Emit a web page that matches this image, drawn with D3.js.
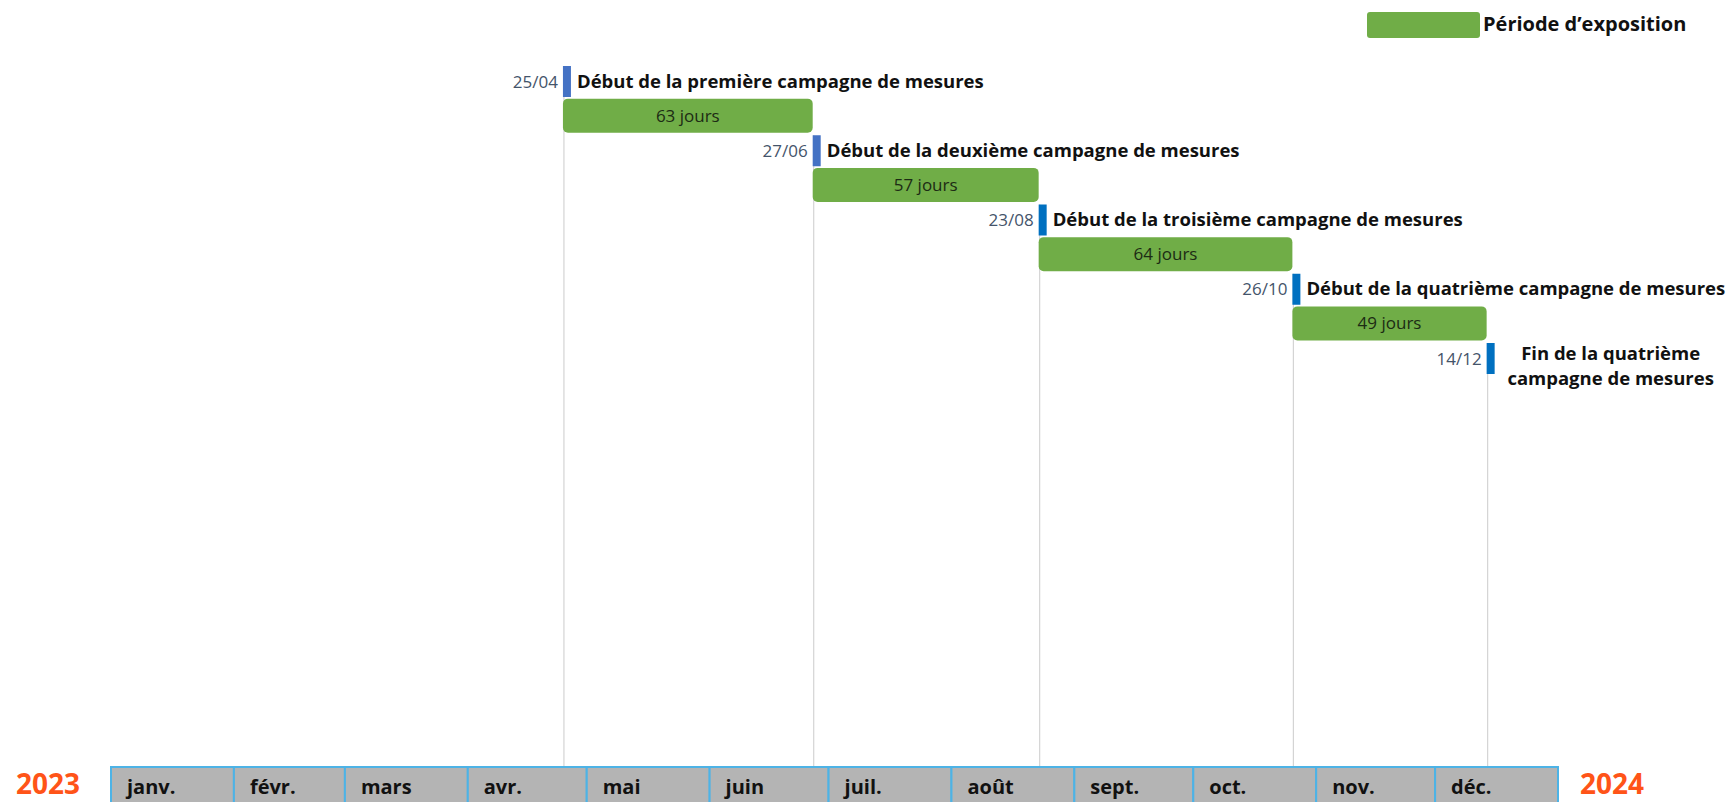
<!DOCTYPE html>
<html>
<head>
<meta charset="utf-8">
<script src="https://cdn.jsdelivr.net/npm/d3@7"></script>
<style>
  html, body { margin: 0; padding: 0; background: #ffffff; overflow: hidden; }
  svg { display: block; font-family: "Open Sans", Lato, sans-serif; }
</style>
</head>
<body>
<svg id="chart" width="1729" height="802"></svg>
<script>
// ---- data ----
const months = ["janv.", "févr.", "mars", "avr.", "mai", "juin", "juil.", "août", "sept.", "oct.", "nov.", "déc."];
const years = ["2023", "2024"];
const milestoneDates = ["2023-04-25", "2023-06-27", "2023-08-23", "2023-10-26", "2023-12-14"];
const milestoneLabels = ["25/04", "27/06", "23/08", "26/10", "14/12"];
const milestoneTitles = [
  ["Début de la première campagne de mesures"],
  ["Début de la deuxième campagne de mesures"],
  ["Début de la troisième campagne de mesures"],
  ["Début de la quatrième campagne de mesures"],
  ["Fin de la quatrième", "campagne de mesures"]
];
const exposureDays = [63, 57, 64, 49];
const legendLabel = "Période d’exposition";

// ---- layout ----
const svg = d3.select("#chart");
const parse = d3.timeParse("%Y-%m-%d");
const x = d3.scaleTime()
  .domain([new Date(2023, 0, 1), new Date(2024, 0, 1)])
  .range([111, 1558]);
const y = d3.scaleLinear().domain([0, 8]).range([66, 343]); // row steps: milestone, bar, milestone, ...
const markerH = 31, barH = 34, markerW = 8;
const axisTop = 767;

const ms = milestoneDates.map((d, i) => ({
  date: parse(d), label: milestoneLabels[i], title: milestoneTitles[i], i
}));
const bars = exposureDays.map((days, i) => ({
  start: ms[i].date, end: ms[i + 1].date, days, i
}));

// vertical guide lines
svg.append("g").selectAll("line").data(ms).join("line")
  .attr("x1", d => x(d.date) + 1).attr("x2", d => x(d.date) + 1)
  .attr("y1", d => y(2 * d.i)).attr("y2", axisTop)
  .attr("stroke", "#d4d4d4").attr("stroke-width", 1.2);

// exposure bars
const gb = svg.append("g").selectAll("g").data(bars).join("g");
gb.append("rect")
  .attr("x", d => x(d.start)).attr("width", d => x(d.end) - x(d.start))
  .attr("y", d => y(2 * d.i + 1) - 2).attr("height", barH)
  .attr("rx", 5).attr("fill", "#70AD47");
gb.append("text")
  .attr("x", d => (x(d.start) + x(d.end)) / 2)
  .attr("y", d => y(2 * d.i + 1) - 2 + barH / 2 + 6)
  .attr("text-anchor", "middle").attr("font-size", 17).attr("fill", "#1c2b14")
  .text(d => d.days + " jours");

// milestones
const gm = svg.append("g").selectAll("g").data(ms).join("g");
gm.append("rect")
  .attr("x", d => x(d.date)).attr("width", markerW)
  .attr("y", d => y(2 * d.i)).attr("height", markerH)
  .attr("fill", d => d.i < 2 ? "#4472C4" : "#0070C0");
gm.append("text")
  .attr("x", d => x(d.date) - 5)
  .attr("y", d => y(2 * d.i) + markerH / 2 + 6)
  .attr("text-anchor", "end").attr("font-size", 17).attr("fill", "#44546A")
  .text(d => d.label);
gm.each(function(d) {
  const g = d3.select(this);
  const xm = x(d.date);
  const ym = y(2 * d.i);
  if (d.title.length === 1) {
    g.append("text")
      .attr("x", xm + markerW + 6).attr("y", ym + markerH / 2 + 6)
      .attr("font-size", 18.5).attr("font-weight", "bold").attr("fill", "#111")
      .text(d.title[0]);
  } else {
    const t = g.append("text")
      .attr("text-anchor", "middle").attr("font-size", 18.5).attr("font-weight", "bold").attr("fill", "#111");
    d.title.forEach((line, k) => {
      t.append("tspan").attr("x", xm + 124).attr("y", ym + 17 + k * 25).text(line);
    });
  }
});

// month axis
const monthStarts = d3.timeMonth.range(x.domain()[0], x.domain()[1]);
const gmo = svg.append("g").selectAll("g").data(monthStarts).join("g");
gmo.append("rect")
  .attr("x", d => x(d)).attr("width", d => x(d3.timeMonth.offset(d, 1)) - x(d))
  .attr("y", axisTop).attr("height", 50)
  .attr("fill", "#B4B4B4").attr("stroke", "#4DB3E6").attr("stroke-width", 2);
gmo.append("text")
  .attr("x", d => x(d) + 16).attr("y", 794)
  .attr("font-size", 20).attr("font-weight", "bold").attr("fill", "#111")
  .text((d, i) => months[i]);

// years
svg.append("text").attr("x", 16).attr("y", 794)
  .attr("font-size", 28).attr("font-weight", "bold").attr("fill", "#FF5418")
  .text(years[0]);
svg.append("text").attr("x", x.range()[1] + 22).attr("y", 794)
  .attr("font-size", 28).attr("font-weight", "bold").attr("fill", "#FF5418")
  .text(years[1]);

// legend
svg.append("rect").attr("x", 1367).attr("y", 12).attr("width", 113).attr("height", 26)
  .attr("rx", 3).attr("fill", "#70AD47");
svg.append("text").attr("x", 1483).attr("y", 31)
  .attr("font-size", 20).attr("font-weight", "bold").attr("fill", "#111")
  .text(legendLabel);
</script>
</body>
</html>
